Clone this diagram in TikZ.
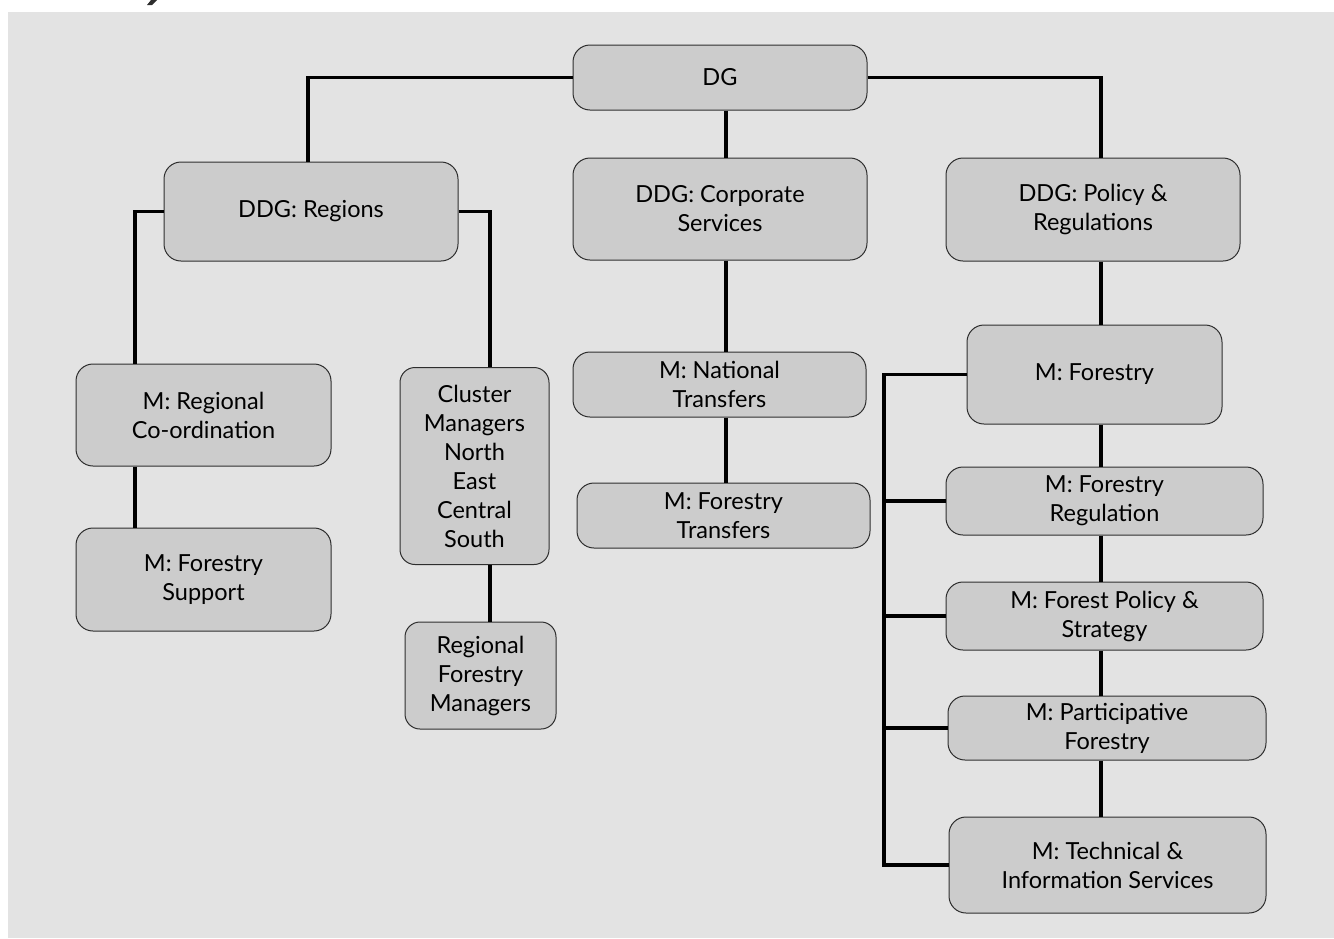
\documentclass[tikz,border=0pt]{standalone}
\usepackage{fontspec}
\setmainfont{Lato}
\definecolor{panel}{HTML}{E3E3E3}
\definecolor{boxgray}{HTML}{CCCCCC}
\definecolor{edge}{HTML}{2E2E2E}
\tikzset{
  orgbox/.style={draw=edge, fill=boxgray, line width=1pt, rounded corners=17pt,
    align=center, inner sep=0pt, font=\fontsize{23.5}{29}\selectfont},
  conn/.style={draw=black, line width=3.2pt}
}
\begin{document}
\begin{tikzpicture}[x=1pt,y=-1pt]
\useasboundingbox (0,0) rectangle (1334,938);
\fill[panel] (8,12) rectangle (1334,938);
\fill[edge] (147,5) -- (152,5) -- (157,0) -- (151,0) -- cycle;
% nodes
\node[orgbox, minimum width=294, minimum height=65] (dg) at (720,77.5) {DG};
\node[orgbox, minimum width=294, minimum height=99] (ddgr) at (311,211.5) {DDG: Regions};
\node[orgbox, minimum width=294, minimum height=102] (ddgc) at (720,209) {DDG: Corporate\\Services};
\node[orgbox, minimum width=294, minimum height=103] (ddgp) at (1093,209.5) {DDG: Policy \&\\Regulations};
\node[orgbox, minimum width=255, minimum height=102] (mrc) at (203.5,415) {M: Regional\\Co-ordination};
\node[orgbox, minimum width=255, minimum height=103] (mfs) at (203.5,579.5) {M: Forestry\\Support};
\node[orgbox, minimum width=149, minimum height=197, rounded corners=15pt] (cl) at (474.5,466) {Cluster\\Managers\\North\\East\\Central\\South};
\node[orgbox, minimum width=151, minimum height=107, rounded corners=15pt] (rfm) at (480.5,675.5) {Regional\\Forestry\\Managers};
\node[orgbox, minimum width=293, minimum height=65] (nt) at (719.5,384.5) {M: National\\Transfers};
\node[orgbox, minimum width=293, minimum height=65] (ft) at (723.5,515.5) {M: Forestry\\Transfers};
\node[orgbox, minimum width=255, minimum height=99] (mf) at (1094.5,374.5) {M: Forestry};
\node[orgbox, minimum width=317, minimum height=68] (mfr) at (1104.5,501) {M: Forestry\\Regulation};
\node[orgbox, minimum width=317, minimum height=68] (mfp) at (1104.5,616) {M: Forest Policy \&\\Strategy};
\node[orgbox, minimum width=318, minimum height=64] (mpf) at (1107,728) {M: Participative\\Forestry};
\node[orgbox, minimum width=317, minimum height=96] (mti) at (1107.5,865) {M: Technical \&\\Information Services};
% guide coordinates
\coordinate (lx) at (135,0);
\coordinate (rx) at (490,0);
\coordinate (cx) at (726,0);
\coordinate (px) at (1101,0);
\coordinate (bx) at (884,0);
% connectors
\draw[conn] (dg.west) -| (308,0 |- ddgr.north);
\draw[conn] (dg.east) -| (px |- ddgp.north);
\draw[conn] (cx |- dg.south) -- (cx |- ddgc.north);
\draw[conn] (ddgr.west) -| (lx |- mrc.north);
\draw[conn] (lx |- mrc.south) -- (lx |- mfs.north);
\draw[conn] (ddgr.east) -| (rx |- cl.north);
\draw[conn] (rx |- cl.south) -- (rx |- rfm.north);
\draw[conn] (cx |- ddgc.south) -- (cx |- nt.north);
\draw[conn] (cx |- nt.south) -- (cx |- ft.north);
\draw[conn] (px |- ddgp.south) -- (px |- mf.north);
\draw[conn] (px |- mf.south) -- (px |- mfr.north);
\draw[conn] (px |- mfr.south) -- (px |- mfp.north);
\draw[conn] (px |- mfp.south) -- (px |- mpf.north);
\draw[conn] (px |- mpf.south) -- (px |- mti.north);
\draw[conn] (mf.west) -| (bx |- mti.west) -- (mti.west);
\draw[conn] (bx |- mfr.west) -- (mfr.west);
\draw[conn] (bx |- mfp.west) -- (mfp.west);
\draw[conn] (bx |- mpf.west) -- (mpf.west);
\end{tikzpicture}
\end{document}
